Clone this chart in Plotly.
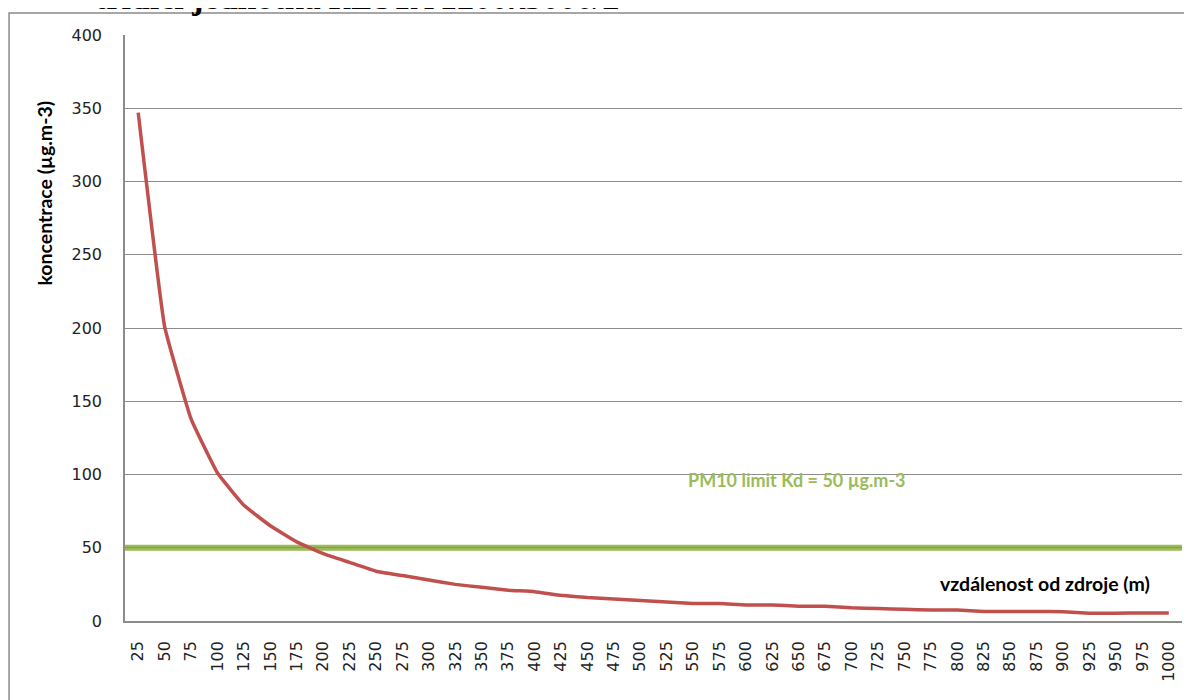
import plotly.graph_objects as go

# ---- data ----
distance = [25, 50, 75, 100, 125, 150, 175, 200, 225, 250,
            275, 300, 325, 350, 375, 400, 425, 450, 475, 500,
            525, 550, 575, 600, 625, 650, 675, 700, 725, 750,
            775, 800, 825, 850, 875, 900, 925, 950, 975, 1000]
concentration = [347, 201, 138, 101, 79, 65, 54, 46, 40, 34,
                 31, 28, 25, 23, 21, 20, 17.5, 16, 15, 14,
                 13, 12, 12, 11, 11, 10, 10, 9, 8.5, 8,
                 7.5, 7.5, 6.5, 6.5, 6.5, 6.3, 5.3, 5.3, 5.5, 5.5]
limit_value = 50
x_labels = [str(d) for d in distance]
y_ticks = [0, 50, 100, 150, 200, 250, 300, 350, 400]

title_text = "<b>třídicí jednotka <i>RESTA 1200x3000/2</i></b>"
y_title = "koncentrace (µg.m-3)"
x_title = "vzdálenost od zdroje (m)"
limit_label = "PM10 limit Kd = 50 µg.m-3"

RED = "#C0504D"
GREEN = "#9BBB59"
GRID = "#8c8c8c"

fig = go.Figure()
fig.add_trace(go.Scatter(
    x=x_labels, y=concentration, mode="lines",
    line=dict(color=RED, width=3.5, shape="spline", smoothing=0.3),
    showlegend=False, hoverinfo="x+y",
))

fig.add_shape(type="line", xref="paper", x0=0, x1=1, yref="y",
              y0=limit_value, y1=limit_value,
              line=dict(color=GREEN, width=6), layer="between")

# outer chart frame
fig.add_shape(type="rect", xref="paper", yref="paper",
              x0=-0.1097, x1=1.05, y0=-0.2, y1=1.0375,
              line=dict(color="#8a8a8a", width=1.5), layer="below")

fig.update_layout(
    width=1184, height=692,
    margin=dict(l=117, r=10, t=27, b=79),
    paper_bgcolor="white", plot_bgcolor="white",
    font=dict(family="DejaVu Sans", color="#222222"),
    xaxis=dict(type="category", range=[-0.5, len(x_labels) - 0.5],
               showgrid=False, showline=True, linecolor=GRID, linewidth=1.5,
               ticks="outside", ticklen=12, tickcolor="rgba(0,0,0,0)",
               tickangle=-90, tickfont=dict(size=16, family="DejaVu Sans", color="#222")),
    yaxis=dict(range=[0, 400], tickvals=y_ticks, showgrid=True, gridcolor=GRID,
               gridwidth=1, showline=True, linecolor=GRID, linewidth=1.5,
               zeroline=False,
               ticks="outside", ticklen=18, tickcolor="rgba(0,0,0,0)",
               tickfont=dict(size=16, family="DejaVu Sans", color="#222")),
    annotations=[
        dict(text=title_text, xref="paper", yref="paper", x=-0.0303, y=1.029,
             xanchor="left", yanchor="bottom", showarrow=False,
             font=dict(family="Liberation Serif", size=34, color="black")),
        dict(text="<b>" + y_title + "</b>", xref="paper", yref="paper",
             x=-0.0757, y=0.731, xanchor="center", yanchor="middle", textangle=-90,
             showarrow=False, font=dict(family="Lato", size=19.5, color="black")),
        dict(text="<b>" + x_title + "</b>", xref="paper", yref="paper",
             x=0.8707, y=0.0648, xanchor="center", yanchor="middle",
             showarrow=False, font=dict(family="Lato", size=19.5, color="black")),
        dict(text="<b>" + limit_label + "</b>", xref="paper", yref="paper",
             x=0.636, y=0.241, xanchor="center", yanchor="middle",
             showarrow=False, font=dict(family="Lato", size=18, color=GREEN)),
    ],
)

fig.write_html("out.html")
